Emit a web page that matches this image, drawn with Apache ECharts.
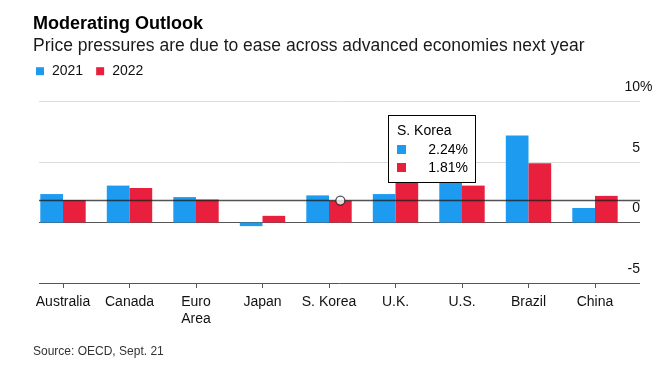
<!DOCTYPE html>
<html><head><meta charset="utf-8">
<script src="https://cdn.jsdelivr.net/npm/echarts@6/dist/echarts.min.js"></script>
<style>html,body{margin:0;padding:0;background:#fff}#c{width:670px;height:370px}</style>
</head><body><div id="c"></div>
<script>
// ---- data ----
const categories = ['Australia', 'Canada', 'Euro\nArea', 'Japan', 'S. Korea', 'U.K.', 'U.S.', 'Brazil', 'China'];
const values2021 = [2.35, 3.05, 2.1, -0.3, 2.24, 2.35, 3.6, 7.2, 1.2];
const values2022 = [1.85, 2.85, 1.9, 0.55, 1.81, 3.4, 3.05, 4.9, 2.2];
const seriesNames = ['2021', '2022'];
const yTicks = [-5, 0, 5, 10];
const highlightIndex = 4;
const titleText = 'Moderating Outlook';
const subtitleText = 'Price pressures are due to ease across advanced economies next year';
const sourceText = 'Source: OECD, Sept. 21';

// ---- styles ----
const FONT = "'Liberation Sans', Arial, Helvetica, sans-serif";
const BLUE = '#1d9bf0', RED = '#e8203d';
const BAR_W = 22.7;
const GRID_TOP = 101.5, GRID_H = 181.5;

const chart = echarts.init(document.getElementById('c'), null, {renderer: 'canvas'});

function tipHtml(i) {
  const row = (c, v) => '<div style="height:18px;line-height:18px;display:flex;align-items:center;justify-content:space-between">' +
    '<span style="display:inline-block;width:9px;height:9px;background:' + c + '"></span>' +
    '<span>' + v.toFixed(2) + '%</span></div>';
  return '<div style="width:71px;font-family:' + FONT.replace(/'/g, '') + ';font-size:14px;color:#000">' +
    '<div style="height:20px;line-height:20px">' + categories[i].replace('\n', ' ') + '</div>' +
    row(BLUE, values2021[i]) + row(RED, values2022[i]) + '</div>';
}

const option = {
  animation: false,
  backgroundColor: '#fff',
  textStyle: {fontFamily: FONT},
  title: [
    {text: titleText, left: 33, top: 14.8, padding: 0,
     textStyle: {fontFamily: FONT, fontSize: 18, fontWeight: 'bold', color: '#000'}},
    {text: subtitleText, left: 33, top: 36.9, padding: 0,
     textStyle: {fontFamily: FONT, fontSize: 17.5, fontWeight: 'normal', color: '#1a1a1a'}},
    {text: sourceText, left: 33, top: 345.5, padding: 0,
     textStyle: {fontFamily: FONT, fontSize: 12, fontWeight: 'normal', color: '#333'}}
  ],
  legend: {
    data: seriesNames, left: 36, top: 64.2, padding: 0,
    icon: 'rect', itemWidth: 8, itemHeight: 8, itemGap: 13,
    textStyle: {fontFamily: FONT, fontSize: 14, color: '#111', padding: [0, 0, 0, 3]}
  },
  tooltip: {
    trigger: 'item', triggerOn: 'none', alwaysShowContent: true,
    position: [388, 115], transitionDuration: 0,
    backgroundColor: '#fff', borderColor: '#000', borderWidth: 1, borderRadius: 0,
    padding: [4, 7, 6, 8], extraCssText: 'box-shadow:none;border-radius:0;',
    formatter: p => tipHtml(p.dataIndex)
  },
  grid: [
    {left: 39, right: 30, top: GRID_TOP, height: GRID_H},
    {left: 29.75, width: 598.5, top: GRID_TOP, height: GRID_H}
  ],
  xAxis: [
    {type: 'value', gridIndex: 0, min: 0, max: 1, show: false},
    {type: 'category', gridIndex: 1, data: categories, position: 'bottom',
     axisLine: {show: true, onZero: false, lineStyle: {color: 'rgba(0,0,0,0)', width: 1}},
     axisTick: {show: true, alignWithLabel: true, length: 5, lineStyle: {color: '#555', width: 1}},
     axisLabel: {fontFamily: FONT, fontSize: 14, color: '#111', margin: 11, lineHeight: 17, interval: 0},
     splitLine: {show: false}}
  ],
  yAxis: [
    {type: 'value', gridIndex: 0, min: yTicks[0], max: yTicks[yTicks.length - 1], interval: 5,
     position: 'right',
     axisLine: {show: false}, axisTick: {show: false},
     axisLabel: {inside: true, margin: 0, fontFamily: FONT, fontSize: 14, color: '#111',
       verticalAlign: 'bottom', lineHeight: 14, padding: [0, 0, 7, 0],
       formatter: v => v === yTicks[yTicks.length - 1] ? '{n|' + v + '}{p|%}' : String(v),
       rich: {n: {align: 'left', fontFamily: FONT, fontSize: 14, color: '#111'},
              p: {align: 'left', width: 0.01, fontFamily: FONT, fontSize: 14, color: '#111'}}},
     splitLine: {show: true, lineStyle: {color: ['#555', '#555', '#dcdcdc', '#dcdcdc'], width: 1}}},
    {type: 'value', gridIndex: 1, min: yTicks[0], max: yTicks[yTicks.length - 1], interval: 5, show: false}
  ],
  series: [
    {name: seriesNames[0], type: 'bar', xAxisIndex: 1, yAxisIndex: 1, data: values2021,
     barWidth: BAR_W, barGap: '0%', itemStyle: {color: BLUE}, z: 2},
    {name: seriesNames[1], type: 'bar', xAxisIndex: 1, yAxisIndex: 1, data: values2022,
     barWidth: BAR_W, barGap: '0%', itemStyle: {color: RED}, z: 2},
    {type: 'line', xAxisIndex: 0, yAxisIndex: 0, silent: true, symbol: 'none',
     data: [[0, values2022[highlightIndex]], [1, values2022[highlightIndex]]],
     lineStyle: {color: 'rgba(25,25,25,0.75)', width: 1.5}, z: 10, tooltip: {show: false}},
    {type: 'scatter', xAxisIndex: 1, yAxisIndex: 1, silent: true,
     data: [[highlightIndex, values2022[highlightIndex]]],
     symbol: 'circle', symbolSize: 9, symbolOffset: [BAR_W / 2, 0],
     itemStyle: {color: '#fff', borderColor: '#222', borderWidth: 1.3}, z: 11, tooltip: {show: false}}
  ]
};
chart.setOption(option);
chart.dispatchAction({type: 'showTip', seriesIndex: 1, dataIndex: highlightIndex});
</script>
</body></html>
